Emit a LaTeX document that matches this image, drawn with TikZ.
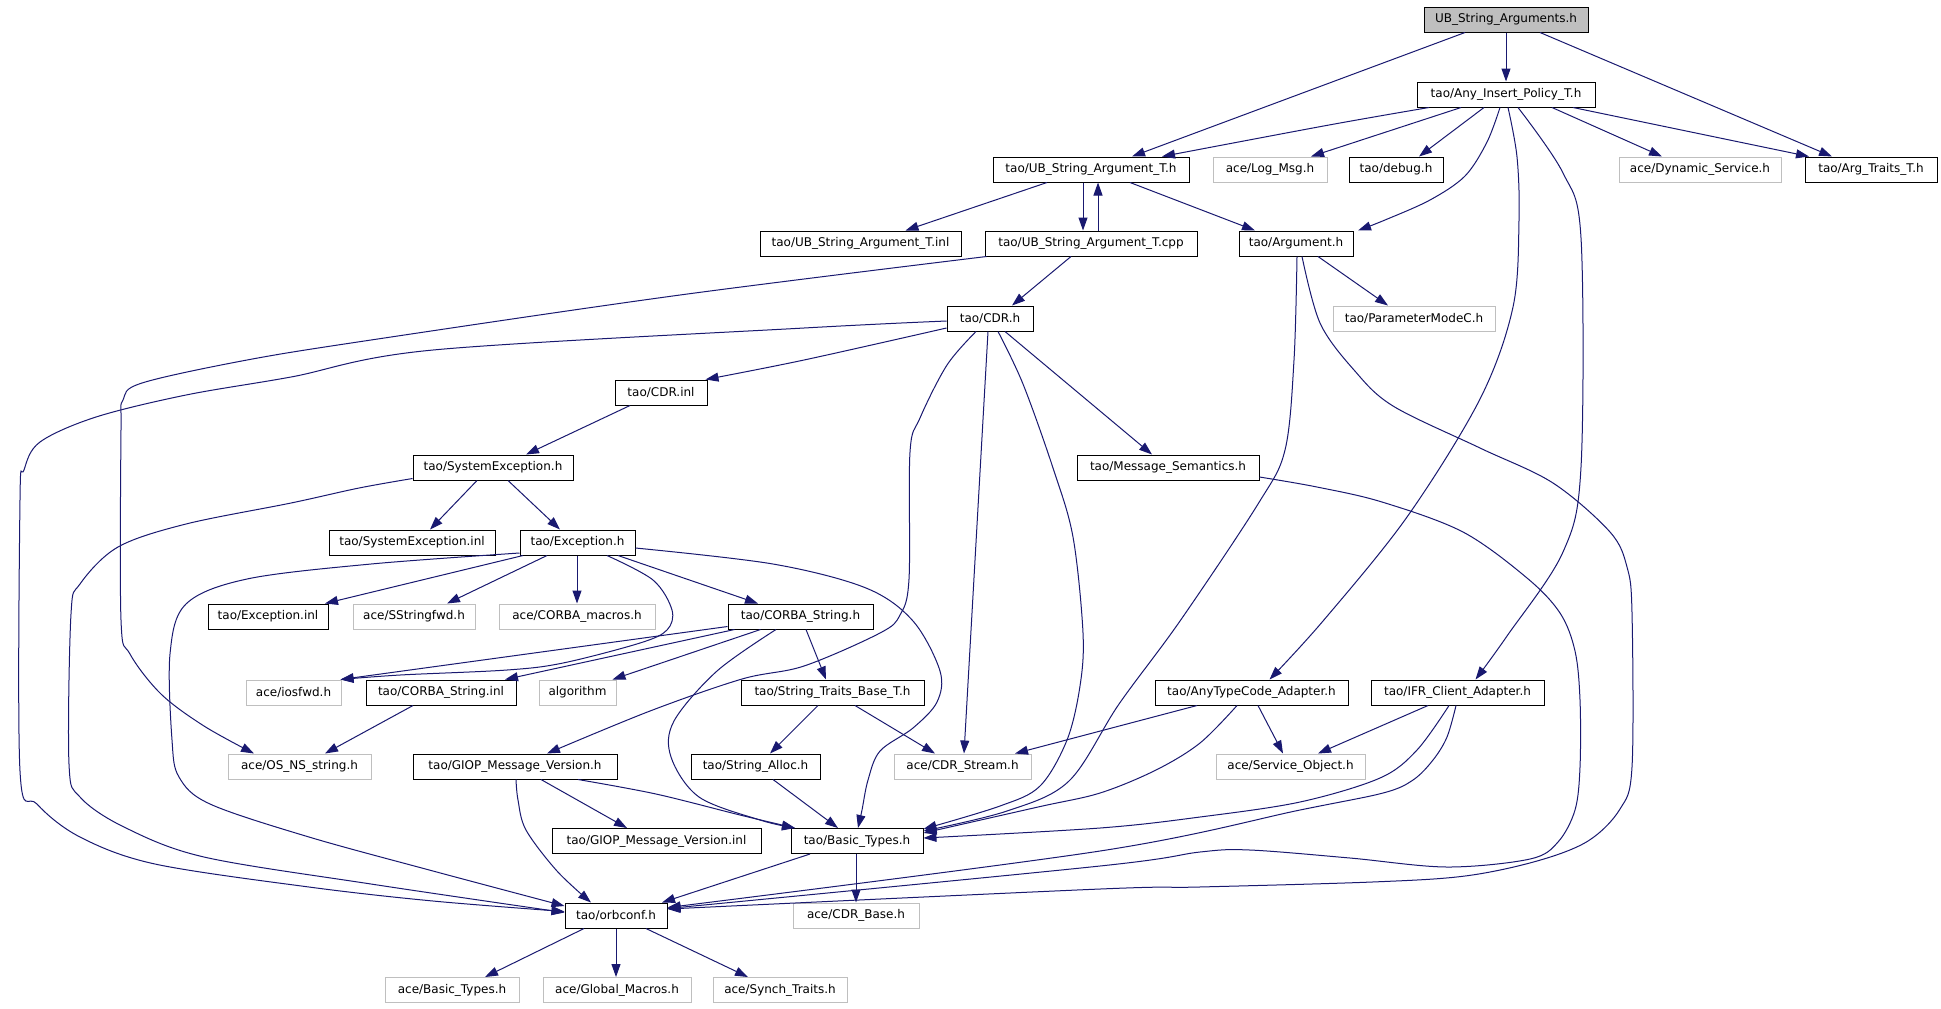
\documentclass[tikz,border=0pt]{standalone}
\usepackage{fontspec}
\newfontfamily\dvs{DejaVu Sans}
\usetikzlibrary{arrows.meta,calc}
\definecolor{edgecol}{HTML}{191970}
\definecolor{graybd}{HTML}{BFBFBF}
\definecolor{rootfill}{HTML}{BFBFBF}
\begin{document}
\begin{tikzpicture}[x=0.5pt,y=-0.5pt,
  box/.style={draw=black,fill=white,line width=0.5pt,minimum height=12.5pt,inner sep=0pt,font=\dvs\fontsize{6}{7}\selectfont,text=black},
  gbox/.style={box,draw=graybd},
  rootbox/.style={box,fill=rootfill},
  edge/.style={draw=edgecol,line width=0.5pt,-{Triangle[length=6.5pt,width=4.5pt]}},
  sm/.style={smooth,tension=0.55}]
\fill[white] (0,0) rectangle (1941,1008);
\useasboundingbox (0,0) rectangle (1941,1008);
% nodes
\node[rootbox,minimum width=82pt] (root) at (1506,19.5) {UB\_String\_Arguments.h};
\node[box,minimum width=89pt] (aip) at (1506,94.5) {tao/Any\_Insert\_Policy\_T.h};
\node[box,minimum width=98pt] (ubh) at (1091,169.5) {tao/UB\_String\_Argument\_T.h};
\node[gbox,minimum width=57pt] (logmsg) at (1270,169.5) {ace/Log\_Msg.h};
\node[box,minimum width=47pt] (debug) at (1396,169.5) {tao/debug.h};
\node[gbox,minimum width=81pt] (dynsvc) at (1700,169.5) {ace/Dynamic\_Service.h};
\node[box,minimum width=66pt] (argtraits) at (1871,169.5) {tao/Arg\_Traits\_T.h};
\node[box,minimum width=100.5pt] (ubinl) at (860.5,243.5) {tao/UB\_String\_Argument\_T.inl};
\node[box,minimum width=106pt] (ubcpp) at (1091,243.5) {tao/UB\_String\_Argument\_T.cpp};
\node[box,minimum width=57pt] (argument) at (1296,243.5) {tao/Argument.h};
\node[box,minimum width=43pt] (cdrh) at (990,318.5) {tao/CDR.h};
\node[gbox,minimum width=81pt] (pmc) at (1414,318.5) {tao/ParameterModeC.h};
\node[box,minimum width=46pt] (cdrinl) at (661,392.5) {tao/CDR.inl};
\node[box,minimum width=80pt] (sysexh) at (493,467.5) {tao/SystemException.h};
\node[box,minimum width=91pt] (msgsem) at (1168,467.5) {tao/Message\_Semantics.h};
\node[box,minimum width=83pt] (sysexinl) at (412,542.5) {tao/SystemException.inl};
\node[box,minimum width=57.5pt] (exh) at (577.5,542.5) {tao/Exception.h};
\node[box,minimum width=60pt] (exinl) at (268,616.5) {tao/Exception.inl};
\node[gbox,minimum width=61pt] (sstr) at (414,616.5) {ace/SStringfwd.h};
\node[gbox,minimum width=78pt] (corbamac) at (577,616.5) {ace/CORBA\_macros.h};
\node[box,minimum width=72.5pt] (corbastr) at (800.5,616.5) {tao/CORBA\_String.h};
\node[gbox,minimum width=47.5pt] (iosfwd) at (293.5,692.5) {ace/iosfwd.h};
\node[box,minimum width=75pt] (corbainl) at (441,692.5) {tao/CORBA\_String.inl};
\node[gbox,minimum width=38.5pt] (algorithm) at (577.5,692.5) {algorithm};
\node[box,minimum width=91.5pt] (strtraits) at (832.5,692.5) {tao/String\_Traits\_Base\_T.h};
\node[box,minimum width=96.5pt] (anytc) at (1251.5,692.5) {tao/AnyTypeCode\_Adapter.h};
\node[box,minimum width=86.5pt] (ifr) at (1457.5,692.5) {tao/IFR\_Client\_Adapter.h};
\node[gbox,minimum width=71.5pt] (osns) at (299.5,766.5) {ace/OS\_NS\_string.h};
\node[box,minimum width=102pt] (giop) at (515,766.5) {tao/GIOP\_Message\_Version.h};
\node[box,minimum width=64.5pt] (stralloc) at (755.5,766.5) {tao/String\_Alloc.h};
\node[gbox,minimum width=68.5pt] (cdrstream) at (962.5,766.5) {ace/CDR\_Stream.h};
\node[gbox,minimum width=74.5pt] (svcobj) at (1290.5,766.5) {ace/Service\_Object.h};
\node[box,minimum width=104.5pt] (giopinl) at (656.5,841) {tao/GIOP\_Message\_Version.inl};
\node[box,minimum width=66pt] (basic) at (857,841) {tao/Basic\_Types.h};
\node[box,minimum width=51pt] (orbconf) at (616,915.5) {tao/orbconf.h};
\node[gbox,minimum width=63pt] (cdrbase) at (856,915.5) {ace/CDR\_Base.h};
\node[gbox,minimum width=67pt] (acebasic) at (452,990) {ace/Basic\_Types.h};
\node[gbox,minimum width=74pt] (globmac) at (617,990) {ace/Global\_Macros.h};
\node[gbox,minimum width=67pt] (synch) at (780,990) {ace/Synch\_Traits.h};
% straight edges
\draw[edge] ($(root.south)+(-41,0)$) -- ($(ubh.north)+(41,0)$);
\draw[edge] (root.south) -- (aip.north);
\draw[edge] ($(root.south)+(34,0)$) -- ($(argtraits.north)+(-39,0)$);
\draw[edge] ($(aip.south)+(-45,0)$) -- ($(logmsg.north)+(41,0)$);
\draw[edge] ($(aip.south)+(-22,0)$) -- ($(debug.north)+(23,0)$);
\draw[edge] ($(aip.south)+(46,0)$) -- ($(dynsvc.north)+(-38,0)$);
\draw[edge] ($(aip.south)+(67,0)$) -- ($(argtraits.north)+(-62,0)$);
\draw[edge] ($(ubh.south)+(-44,0)$) -- ($(ubinl.north)+(45,0)$);
\draw[edge] ($(ubh.south)+(-8,0)$) -- ($(ubcpp.north)+(-8,0)$);
\draw[edge] ($(ubcpp.north)+(7,0)$) -- ($(ubh.south)+(7,0)$);
\draw[edge] ($(ubh.south)+(39,0)$) -- ($(argument.north)+(-41,0)$);
\draw[edge] ($(ubcpp.south)+(-20,0)$) -- ($(cdrh.north)+(22,0)$);
\draw[edge] ($(cdrh.south)+(-2,0)$) -- ($(cdrstream.north)+(1.5,0)$);
\draw[edge] ($(cdrh.south)+(15,0)$) -- ($(msgsem.north)+(-16,0)$);
\draw[edge] ($(argument.south)+(22,0)$) -- ($(pmc.north)+(-26,0)$);
\draw[edge] ($(ifr.south)+(-29.5,0)$) -- ($(svcobj.north)+(27.5,0)$);
\draw[edge] ($(anytc.south)+(-54.5,0)$) -- ($(cdrstream.north)+(52.5,0)$);
\draw[edge] ($(anytc.south)+(6.5,0)$) -- ($(svcobj.north)+(-7.5,0)$);
\draw[edge] ($(sysexh.south)+(-16,0)$) -- ($(sysexinl.north)+(18,0)$);
\draw[edge] ($(sysexh.south)+(15,0)$) -- ($(exh.north)+(-17.5,0)$);
\draw[edge] ($(cdrinl.south)+(-31,0)$) -- ($(sysexh.north)+(33,0)$);
\draw[edge] ($(exh.south)+(-54.5,0)$) -- ($(exinl.north)+(57,0)$);
\draw[edge] ($(exh.south)+(-30.5,0)$) -- ($(sstr.north)+(33,0)$);
\draw[edge] ($(exh.south)+(-0.5,0)$) -- (corbamac.north);
\draw[edge] ($(exh.south)+(40.5,0)$) -- ($(corbastr.north)+(-42.5,0)$);
\draw[edge] ($(corbastr.west)+(0,10)$) -- ($(iosfwd.north east)+(-1,0)$);
\draw[edge] ($(corbastr.south west)+(7,0)$) -- ($(corbainl.north)+(64,0)$);
\draw[edge] ($(corbastr.south)+(-40,0)$) -- ($(algorithm.north)+(35,0)$);
\draw[edge] ($(corbastr.south)+(5.5,0)$) -- ($(strtraits.north)+(-6.5,0)$);
\draw[edge] ($(corbainl.south)+(-28,0)$) -- ($(osns.north)+(25.5,0)$);
\draw[edge] ($(strtraits.south)+(-14.5,0)$) -- ($(stralloc.north)+(14.5,0)$);
\draw[edge] ($(strtraits.south)+(22.5,0)$) -- ($(cdrstream.north)+(-27.5,0)$);
\draw[edge] ($(stralloc.south)+(17.5,0)$) -- ($(basic.north)+(-19,0)$);
\draw[edge] ($(giop.south)+(26,0)$) -- ($(giopinl.north)+(-29.5,0)$);
\draw[edge] ($(basic.south)+(-47,0)$) -- ($(orbconf.north)+(46,0)$);
\draw[edge] ($(basic.south)+(-1,0)$) -- (cdrbase.north);
\draw[edge] ($(orbconf.south)+(-32,0)$) -- ($(acebasic.north)+(33,0)$);
\draw[edge] (orbconf.south) -- ($(globmac.north)+(-1,0)$);
\draw[edge] ($(orbconf.south)+(30,0)$) -- ($(synch.north)+(-32,0)$);
% curve end points
\coordinate (a4) at ($(aip.south)+(-77,0)$);  \coordinate (b4) at ($(ubh.north)+(71,0)$);
\coordinate (a7) at ($(aip.south)+(-6,0)$);   \coordinate (b7) at ($(argument.north)+(62,0)$);
\coordinate (a8) at ($(aip.south)+(2,0)$);    \coordinate (b8) at ($(anytc.north)+(18,0)$);
\coordinate (a9) at ($(aip.south)+(12,0)$);   \coordinate (b9) at ($(ifr.north)+(18,0)$);
\coordinate (a17) at ($(ubcpp.south west)+(2,0)$); \coordinate (b17) at ($(osns.north)+(-45.5,0)$);
\coordinate (a18) at ($(cdrh.west)+(0,9.5)$);  \coordinate (b18) at ($(cdrinl.north east)+(-2,0)$);
\coordinate (a19) at ($(cdrh.west)+(0,2.5)$);  \coordinate (b19) at ($(orbconf.west)+(0,-4)$);
\coordinate (a20) at ($(cdrh.south)+(-14,0)$); \coordinate (b20) at ($(giop.north)+(32,0)$);
\coordinate (a22) at ($(cdrh.south)+(8,0)$);   \coordinate (b22) at ($(basic.north east)+(0,1)$);
\coordinate (a25) at ($(argument.south)+(1,0)$); \coordinate (b25) at ($(basic.north east)+(0,3)$);
\coordinate (a26) at ($(argument.south)+(6,0)$); \coordinate (b26) at ($(orbconf.east)+(0,-6.5)$);
\coordinate (a27) at ($(msgsem.east)+(0,9.5)$);  \coordinate (b27) at ($(orbconf.east)+(0,-7)$);
\coordinate (a28) at ($(ifr.south)+(-1.5,0)$);   \coordinate (b28) at ($(orbconf.east)+(0,-8)$);
\coordinate (a29) at ($(ifr.south)+(-8.5,0)$);   \coordinate (b29) at ($(basic.east)+(0,-3)$);
\coordinate (a33) at ($(anytc.south)+(-14.5,0)$); \coordinate (b33) at ($(basic.north east)+(0,5)$);
\coordinate (a36) at ($(sysexh.west)+(0,11)$);   \coordinate (b36) at ($(orbconf.west)+(0,-3)$);
\coordinate (a42) at ($(exh.south)+(29.5,0)$);   \coordinate (b42) at ($(iosfwd.north east)+(-1,0)$);
\coordinate (a43) at ($(exh.east)+(0,5.5)$);     \coordinate (b43) at ($(basic.north)+(1,0)$);
\coordinate (a44) at ($(exh.west)+(0,10.5)$);    \coordinate (b44) at ($(orbconf.west)+(0,-9.5)$);
\coordinate (a49) at ($(corbastr.south)+(-24.5,0)$); \coordinate (b49) at ($(basic.north)+(-62,0)$);
\coordinate (a55) at ($(giop.south)+(63,0)$);    \coordinate (b55) at ($(basic.north)+(-62,0)$);
\coordinate (a56) at ($(giop.south)+(1,0)$);     \coordinate (b56) at ($(orbconf.north)+(-25,0)$);
% curved edges
\draw[edge] plot[sm] coordinates {(a4) (1329,125) (b4)};
\draw[edge] plot[sm] coordinates {(a7) (1487,142) (1465,176) (1430,200) (1385,220) (b7)};
\draw[edge] plot[sm] coordinates {(a8) (1517,157) (1519,220) (1513,307) (1480,399) (1407,517) (1323,621) (b8)};
\draw[edge] plot[sm] coordinates {(a9) (1563,173) (1581,238) (1581,467) (1563,552) (1507,636) (b9)};
\draw[edge] plot[sm] coordinates {(a17) (680,295) (371,340) (247,360) (142,383) (123,400) (121,430) (121,620) (130,654) (161,694) (204,726) (b17)};
\draw[edge] plot[sm] coordinates {(a18) (804,360) (b18)};
\draw[edge] plot[sm] coordinates {(a19) (804,328) (433,350) (291,377) (186,395) (96,417) (40,442) (24,470) (20,500) (20,771) (37,804) (80,837) (155,864) (309,887) (433,901) (b19)};
\draw[edge] plot[sm] coordinates {(a20) (947,365) (920,418) (910,452) (909,579) (900,615) (880,633) (804,666) (742,679) (650,711) (b20)};
\draw[edge] plot[sm] coordinates {(a22) (1023,384) (1053,468) (1073,537) (1083,633) (1080,686) (1067,740) (1040,786) (1000,806) (b22)};
\draw[edge] plot[sm] coordinates {(a25) (1294,360) (1285,450) (1258,504) (1180,621) (1119,704) (1069,781) (1007,811) (b25)};
\draw[edge] plot[sm] coordinates {(a26) (1320,323) (1354,370) (1393,406) (1480,448) (1553,483) (1610,532) (1627,567) (1632,613) (1632,767) (1620,809) (1588,841) (1537,861) (1465,876) (1372,882) (1199,887) (1100,889) (b26)};
\draw[edge] plot[sm] coordinates {(a27) (1317,487) (1382,502) (1463,532) (1527,578) (1560,613) (1575,651) (1580,700) (1580,767) (1575,810) (1558,842) (1530,859) (1447,867) (1350,858) (1250,850) (1200,852) (1100,866) (b27)};
\draw[edge] plot[sm] coordinates {(a28) (1447,737) (1433,760) (1413,780) (1383,793) (1300,810) (1100,851) (b28)};
\draw[edge] plot[sm] coordinates {(a29) (1417,750) (1380,778) (1300,802) (1200,817) (1100,828) (b29)};
\draw[edge] plot[sm] coordinates {(a33) (1200,743) (1156,770) (1100,793) (1038,807) (b33)};
\draw[edge] plot[sm] coordinates {(a36) (359,488) (291,503) (186,524) (118,547) (80,584) (71,614) (69,764) (80,797) (124,827) (204,857) (371,884) (b36)};
\draw[edge] plot[sm] coordinates {(a42) (653,580) (672,610) (667,630) (640,643) (563,663) (507,670) (400,675) (b42)};
\draw[edge] plot[sm] coordinates {(a43) (773,564) (866,588) (913,621) (940,671) (937,702) (913,728) (880,751) (868,780) (862,810) (b43)};
\draw[edge] plot[sm] coordinates {(a44) (371,564) (247,579) (186,604) (170,654) (172,740) (179,777) (210,804) (309,837) (433,871) (b44)};
\draw[edge] plot[sm] coordinates {(a49) (717,671) (674,721) (671,757) (699,797) (760,820) (b49)};
\draw[edge] plot[sm] coordinates {(a55) (656,794) (740,815) (b55)};
\draw[edge] plot[sm] coordinates {(a56) (518,800) (526,830) (557,871) (b56)};
\end{tikzpicture}
\end{document}
